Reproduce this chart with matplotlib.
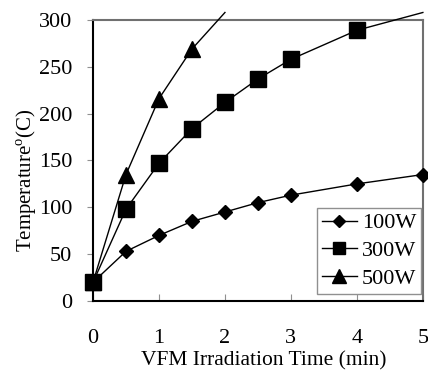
import numpy as np
import matplotlib.pyplot as plt

plt.rcParams['font.family'] = ['Liberation Serif', 'DejaVu Serif']
plt.rcParams['mathtext.fontset'] = 'custom'
plt.rcParams['mathtext.rm'] = 'Liberation Serif'

time_100 = [0, 0.5, 1, 1.5, 2, 2.5, 3, 4, 5]
temp_100 = [20, 53, 70, 85, 95, 105, 113, 125, 135]
time_300 = [0, 0.5, 1, 1.5, 2, 2.5, 3, 4, 5]
temp_300 = [20, 98, 147, 184, 212, 237, 258, 289, 308]
time_500 = [0, 0.5, 1, 1.5, 2]
temp_500 = [20, 135, 216, 269, 308]
labels = ['100W', '300W', '500W']

fig = plt.figure(figsize=(4.28, 3.70), dpi=100)
ax = fig.add_axes([0.2173, 0.1865, 0.7707, 0.7595])

def shown(y):
    # Excel-style: markers only inside the plot range, the line keeps going
    return [i for i, v in enumerate(y) if v <= 300]

ax.plot(time_100, temp_100, color='black', lw=1, marker='D', ms=7.6,
        markevery=shown(temp_100), clip_on=False, zorder=3, label=labels[0])
ax.plot(time_300, temp_300, color='black', lw=1, marker='s', ms=11,
        markevery=shown(temp_300), clip_on=False, zorder=5, label=labels[1])
ax.plot(time_500, temp_500, color='black', lw=1, marker='^', ms=11.5,
        markevery=shown(temp_500), clip_on=False, zorder=4, label=labels[2])

ax.set_xlim(0, 5)
ax.set_ylim(0, 300)
ax.set_xticks(np.arange(0, 6, 1))
ax.set_yticks(np.arange(0, 301, 50))

for s in ['top', 'right']:
    ax.spines[s].set_color('#707070')
    ax.spines[s].set_linewidth(1.5)
for s in ['left', 'bottom']:
    ax.spines[s].set_color('black')
    ax.spines[s].set_linewidth(1.5)

ax.tick_params(axis='x', direction='in', length=5, color='#909090',
               labelsize=16, pad=20)
ax.tick_params(axis='y', direction='out', length=4, color='#909090',
               labelsize=16, pad=11)

ax.set_xlabel('VFM Irradiation Time (min)', fontsize=15.5)
ax.xaxis.set_label_coords(0.517, -0.178)
ax.set_ylabel(r'Temperature$^{\mathrm{o}}$(C)', fontsize=15)
ax.yaxis.set_label_coords(-0.165, 0.43)

leg = ax.legend(loc='lower right', bbox_to_anchor=(0.994, 0.025),
                fontsize=16, fancybox=False, edgecolor='#909090',
                framealpha=1, borderaxespad=0, handlelength=1.6,
                handletextpad=0.2, labelspacing=0.33, borderpad=0.22,
                markerscale=0.85)
leg.get_frame().set_linewidth(1)

fig.savefig('out.png', dpi=100)
